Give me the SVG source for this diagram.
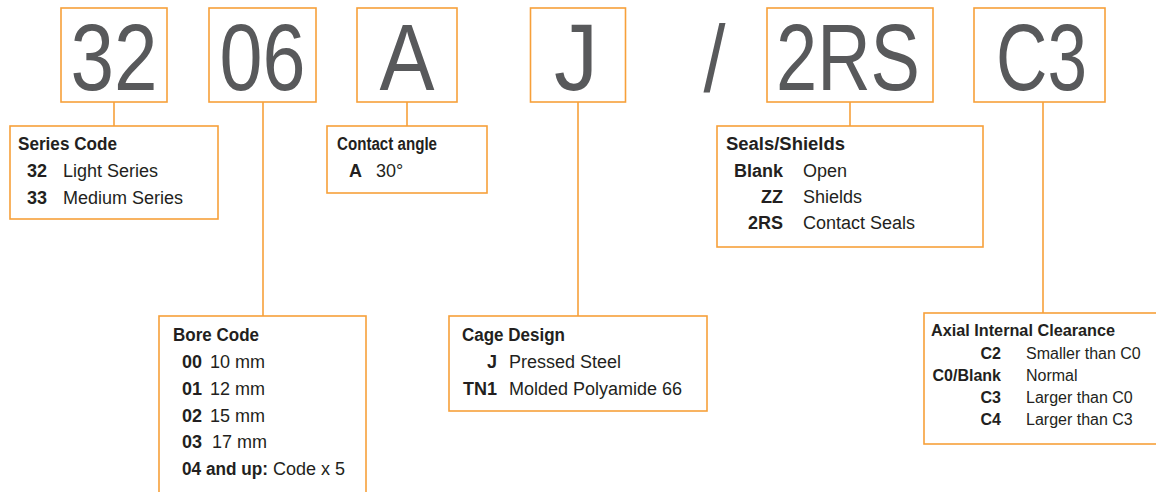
<svg xmlns="http://www.w3.org/2000/svg" width="1156" height="492" viewBox="0 0 1156 492">
<style>
.box{fill:#fff;stroke:#f7a03a;stroke-width:1.6}
.ln{stroke:#f7a03a;stroke-width:1.6;fill:none}
.big{font-family:"Liberation Sans",Arial,sans-serif;font-size:95px;fill:#58595b;text-anchor:middle}
.t{font-family:"Liberation Sans",Arial,sans-serif;font-size:18px;fill:#231f20;font-weight:bold}
.c{font-family:"Liberation Sans",Arial,sans-serif;font-size:18px;fill:#231f20;font-weight:bold}
.r{text-anchor:end}
.d{font-family:"Liberation Sans",Arial,sans-serif;font-size:18px;fill:#231f20}
.s16{font-size:16px}
</style>
<rect width="1156" height="492" fill="#fff"/>
<g id="connectors">
<line class="ln" x1="114" y1="102" x2="114" y2="126"/>
<line class="ln" x1="263" y1="102" x2="263" y2="316"/>
<line class="ln" x1="407" y1="102" x2="407" y2="126"/>
<line class="ln" x1="578" y1="102" x2="578" y2="316"/>
<line class="ln" x1="850" y1="102" x2="850" y2="126"/>
<line class="ln" x1="1043" y1="102" x2="1043" y2="313"/>
</g>
<g id="code-32"><rect class="box" x="61" y="8" width="106" height="94"/><text class="big" x="114" y="90" textLength="87" lengthAdjust="spacingAndGlyphs">32</text></g>
<g id="code-06"><rect class="box" x="209" y="8" width="107" height="94"/><text class="big" x="262.5" y="90" textLength="86" lengthAdjust="spacingAndGlyphs">06</text></g>
<g id="code-A"><rect class="box" x="357" y="8" width="100" height="94"/><text class="big" x="407" y="90" textLength="55" lengthAdjust="spacingAndGlyphs">A</text></g>
<g id="code-J"><rect class="box" x="530.5" y="8" width="95" height="94"/><text class="big" x="576" y="90" textLength="44" lengthAdjust="spacingAndGlyphs">J</text></g>
<g id="slash"><text class="big" x="714.5" y="92" textLength="22" lengthAdjust="spacingAndGlyphs">/</text></g>
<g id="code-2RS"><rect class="box" x="767" y="8" width="166" height="94"/><text class="big" x="848" y="90" textLength="144" lengthAdjust="spacingAndGlyphs">2RS</text></g>
<g id="code-C3"><rect class="box" x="974" y="8" width="131" height="94"/><text class="big" x="1041.5" y="90" textLength="91" lengthAdjust="spacingAndGlyphs">C3</text></g>

<g id="series-code">
<rect class="box" x="10" y="126" width="208" height="93"/>
<text class="t" x="18" y="150" textLength="99" lengthAdjust="spacingAndGlyphs">Series Code</text>
<text class="c" x="27" y="177">32</text><text class="d" x="63" y="177">Light Series</text>
<text class="c" x="27" y="204">33</text><text class="d" x="63" y="204">Medium Series</text>
</g>
<g id="contact-angle">
<rect class="box" x="327" y="126" width="160" height="67"/>
<text class="t" x="337" y="150" textLength="100" lengthAdjust="spacingAndGlyphs">Contact angle</text>
<text class="c" x="349" y="177">A</text><text class="d" x="376" y="177">30°</text>
</g>
<g id="seals-shields">
<rect class="box" x="717" y="126" width="266" height="121"/>
<text class="t" x="726" y="150" textLength="119" lengthAdjust="spacingAndGlyphs">Seals/Shields</text>
<text class="c r" x="783" y="177">Blank</text><text class="d" x="803" y="177">Open</text>
<text class="c r" x="783" y="203">ZZ</text><text class="d" x="803" y="203">Shields</text>
<text class="c r" x="783" y="229">2RS</text><text class="d" x="803" y="229">Contact Seals</text>
</g>
<g id="bore-code">
<rect class="box" x="159" y="316" width="207" height="190"/>
<text class="t" x="173" y="341" textLength="86" lengthAdjust="spacingAndGlyphs">Bore Code</text>
<text class="c" x="182" y="368">00</text><text class="d" x="210" y="368">10 mm</text>
<text class="c" x="182" y="395">01</text><text class="d" x="210" y="395">12 mm</text>
<text class="c" x="182" y="422">02</text><text class="d" x="210" y="422">15 mm</text>
<text class="c" x="182" y="448">03</text><text class="d" x="212" y="448">17 mm</text>
<text class="c" x="182" y="475" textLength="86" lengthAdjust="spacingAndGlyphs">04 and up:</text><text class="d" x="273" y="475">Code x 5</text>
</g>
<g id="cage-design">
<rect class="box" x="449" y="316" width="258" height="95"/>
<text class="t" x="462" y="341" textLength="103" lengthAdjust="spacingAndGlyphs">Cage Design</text>
<text class="c r" x="497" y="368">J</text><text class="d" x="509" y="368">Pressed Steel</text>
<text class="c r" x="497" y="395">TN1</text><text class="d" x="509" y="395">Molded Polyamide 66</text>
</g>
<g id="axial-clearance">
<rect class="box" x="924" y="313" width="240" height="131"/>
<text class="t s16" x="931" y="336" textLength="184" lengthAdjust="spacingAndGlyphs">Axial Internal Clearance</text>
<text class="c r s16" x="1001" y="359">C2</text><text class="d s16" x="1026" y="359">Smaller than C0</text>
<text class="c r s16" x="1001" y="381">C0/Blank</text><text class="d s16" x="1026" y="381">Normal</text>
<text class="c r s16" x="1001" y="403">C3</text><text class="d s16" x="1026" y="403">Larger than C0</text>
<text class="c r s16" x="1001" y="425">C4</text><text class="d s16" x="1026" y="425">Larger than C3</text>
</g>
</svg>
